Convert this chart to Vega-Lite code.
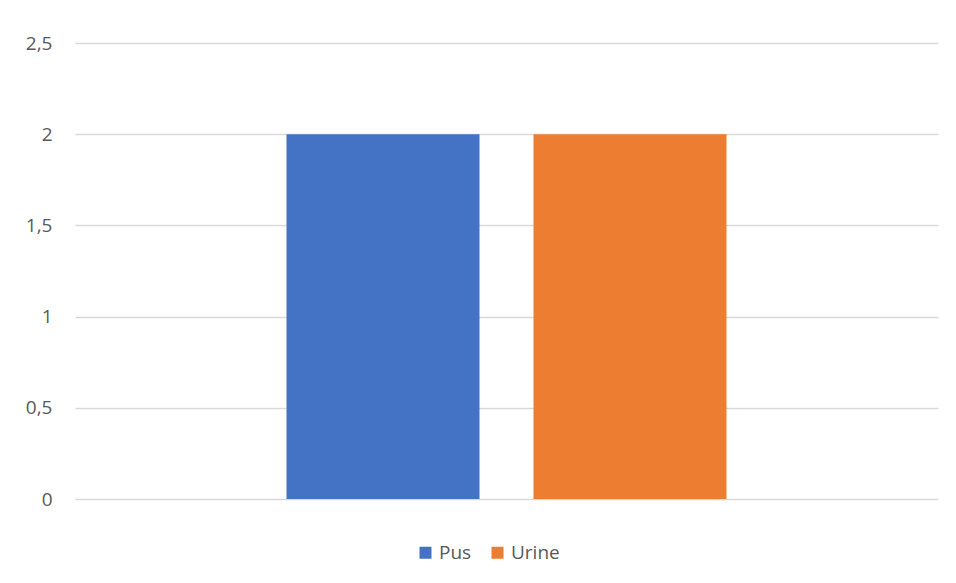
{
  "$schema": "https://vega.github.io/schema/vega-lite/v6.json",
  "width": 863,
  "height": 456,
  "autosize": {"type": "none"},
  "padding": {"left": 75, "top": 43, "right": 18, "bottom": 84},
  "background": "white",
  "data": {
    "values": [
      {"sample": "Pus", "count": 2},
      {"sample": "Urine", "count": 2}
    ]
  },
  "mark": {"type": "bar"},
  "encoding": {
    "x": {
      "field": "sample",
      "type": "nominal",
      "axis": null,
      "scale": {"paddingInner": 0.2186, "paddingOuter": 0.8563}
    },
    "y": {
      "field": "count",
      "type": "quantitative",
      "scale": {"domain": [0, 2.5]},
      "axis": {
        "values": [0, 0.5, 1, 1.5, 2, 2.5],
        "title": null,
        "domain": false,
        "ticks": false,
        "labelPadding": 23,
        "labelExpr": "replace(format(datum.value, ''), '.', ',')",
        "labelFont": "Open Sans",
        "labelFontSize": 19,
        "labelColor": "#595959",
        "gridColor": "#d9d9d9",
        "gridWidth": 1.5
      }
    },
    "color": {
      "field": "sample",
      "type": "nominal",
      "scale": {"domain": ["Pus", "Urine"], "range": ["#4472C4", "#ED7D31"]},
      "legend": {
        "title": null,
        "orient": "none",
        "legendX": 341,
        "legendY": 500,
        "direction": "horizontal",
        "symbolType": "square",
        "symbolSize": 144,
        "symbolStrokeWidth": 0,
        "labelFont": "Open Sans",
        "labelFontSize": 19,
        "labelColor": "#595959",
        "labelOffset": 4,
        "columnPadding": 16,
        "padding": 0
      }
    }
  },
  "config": {"view": {"stroke": null}}
}
